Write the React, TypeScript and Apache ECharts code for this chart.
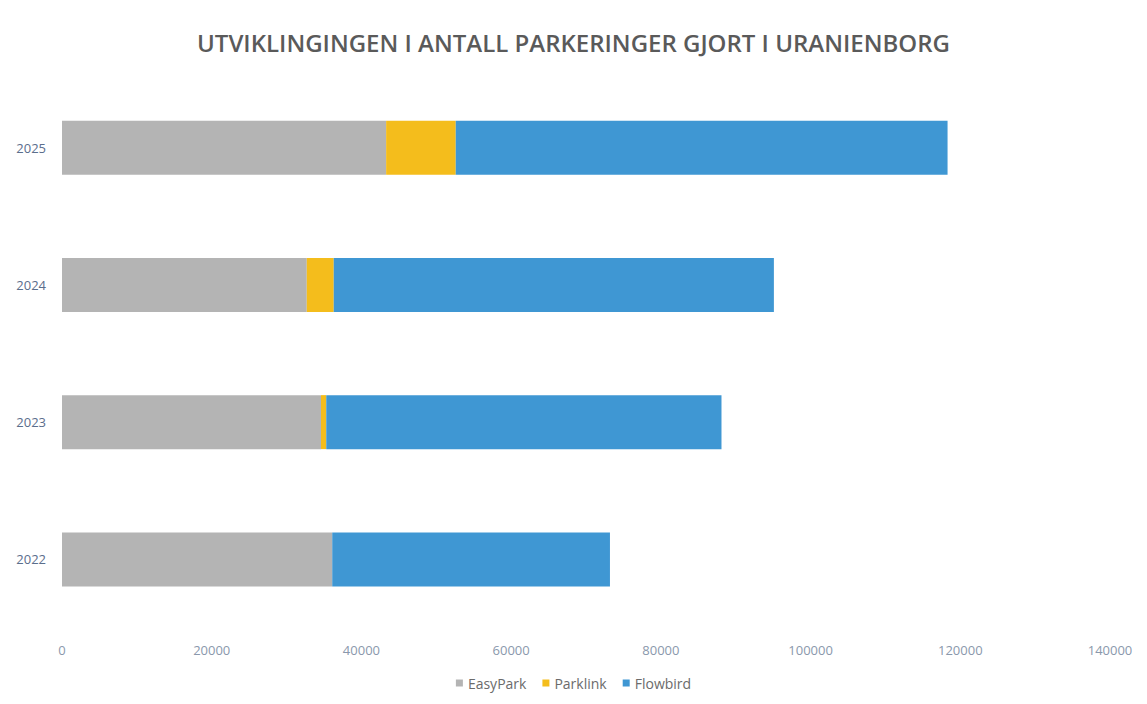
import React, { useEffect, useRef } from "react";
import * as echarts from "echarts";

const years = ["2022", "2023", "2024", "2025"];
const easyPark = [36100, 34600, 32700, 43300];
const parklink = [0, 700, 3600, 9300];
const flowbird = [37100, 52800, 58800, 65700];
const xTicks = [0, 20000, 40000, 60000, 80000, 100000, 120000, 140000];

export default function App() {
  const ref = useRef<HTMLDivElement>(null);
  useEffect(() => {
    const chart = echarts.init(ref.current!, undefined, { renderer: "svg" });
    const mk = (name: string, data: number[], color: string) => ({
      name,
      type: "bar",
      stack: "total",
      data,
      barWidth: 54,
      itemStyle: { color },
    });
    chart.setOption({
      animation: false,
      backgroundColor: "#ffffff",
      title: {
        text: "UTVIKLINGINGEN I ANTALL PARKERINGER GJORT I URANIENBORG",
        left: "center",
        top: 25,
        textStyle: {
          fontFamily: "Open Sans",
          fontSize: 24,
          fontWeight: 600,
          color: "#5a5a5a",
        },
      },
      legend: {
        bottom: 9,
        left: "center",
        itemWidth: 7,
        itemHeight: 7,
        itemGap: 16,
        icon: "rect",
        textStyle: { fontFamily: "Open Sans", fontSize: 14, color: "#6b6b6b" },
        data: ["EasyPark", "Parklink", "Flowbird"],
      },
      grid: { left: 62, right: 37, top: 79, bottom: 76, containLabel: false },
      xAxis: {
        type: "value",
        min: 0,
        max: xTicks[xTicks.length - 1],
        interval: xTicks[1] - xTicks[0],
        splitLine: { show: false },
        axisLine: { show: false },
        axisTick: { show: false },
        axisLabel: {
          fontFamily: "Open Sans",
          fontSize: 13,
          color: "#8a98ac",
          margin: 15,
          formatter: (v: number) => String(v),
        },
      },
      yAxis: {
        type: "category",
        data: years,
        axisLine: { show: false },
        axisTick: { show: false },
        axisLabel: {
          fontFamily: "Open Sans",
          fontSize: 13,
          color: "#5b6e8c",
          margin: 16,
        },
      },
      series: [
        mk("EasyPark", easyPark, "#b4b4b4"),
        mk("Parklink", parklink, "#f4bd1c"),
        mk("Flowbird", flowbird, "#3f97d3"),
      ],
    });
    return () => chart.dispose();
  }, []);
  return (
    <div
      ref={ref}
      style={{ position: "fixed", left: 0, top: 0, width: 1147, height: 704 }}
    />
  );
}
